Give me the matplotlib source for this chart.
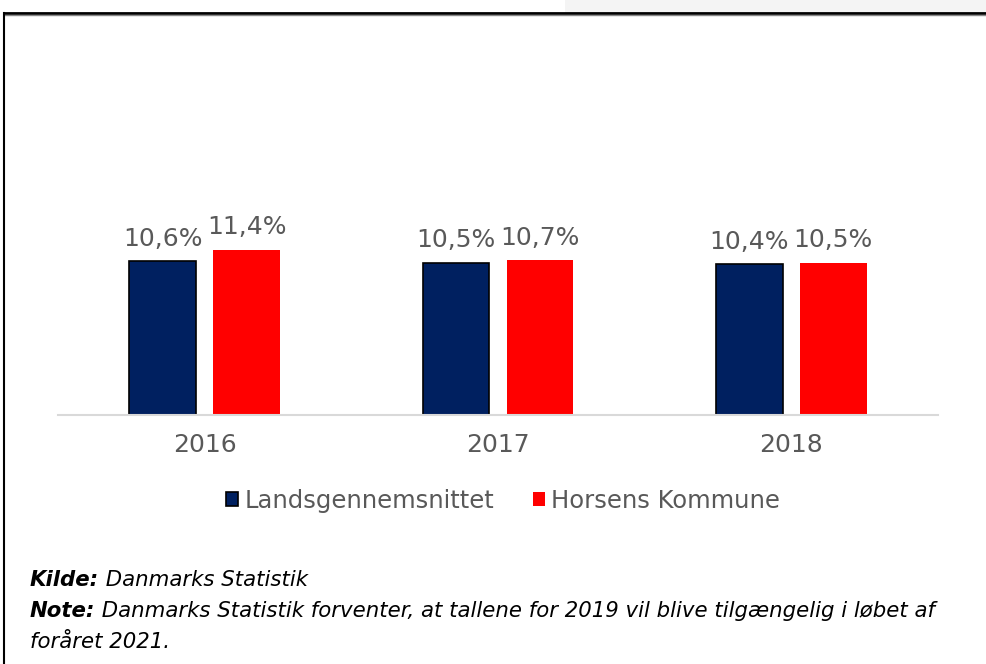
import numpy as np
import matplotlib
matplotlib.use("Agg")
import matplotlib.pyplot as plt
from matplotlib.patches import Rectangle, Patch
from matplotlib.lines import Line2D

# data
years = ["2016", "2017", "2018"]
lands = [10.6, 10.5, 10.4]
horsens = [11.4, 10.7, 10.5]
series_names = ["Landsgennemsnittet", "Horsens Kommune"]

navy = "#002060"
red = "#FF0000"
grey_txt = "#595959"

fig = plt.figure(figsize=(9.87, 6.64), dpi=100)

# light grey strip in the top-right corner + frame lines
fig.patches.append(Rectangle((565 / 987, 1 - 13 / 664), 1, 13 / 664, transform=fig.transFigure,
                             facecolor="#f4f4f4", edgecolor="none", zorder=0))
fig.lines.append(Line2D([4 / 987, 1], [1 - 13 / 664] * 2, transform=fig.transFigure, color="black", lw=2))
fig.lines.append(Line2D([4 / 987, 1], [1 - 15 / 664] * 2, transform=fig.transFigure, color="#888888", lw=1))
fig.lines.append(Line2D([4 / 987] * 2, [0, 1 - 13 / 664], transform=fig.transFigure, color="black", lw=1.5))

ax = fig.add_axes([58 / 987, 1 - 415 / 664, 880 / 987, 375 / 664])
x = np.arange(len(years))
w = 0.228
off = 0.143
b1 = ax.bar(x - off, lands, w, color=navy, edgecolor="black", linewidth=1.2)
b2 = ax.bar(x + off, horsens, w, color=red, edgecolor="none")

for bars, vals in [(b1, lands), (b2, horsens)]:
    for b, v in zip(bars, vals):
        ax.annotate(f"{v:.1f}%".replace(".", ","), (b.get_x() + b.get_width() / 2, v),
                    xytext=(0, 11), textcoords="offset points", ha="center", va="baseline",
                    fontsize=18, color=grey_txt)

ax.set_xlim(-0.5, 2.5)
ax.set_ylim(0, 375 / 14.5)
ax.set_xticks(x)
ax.set_xticklabels(years, fontsize=18, color=grey_txt)
ax.tick_params(axis="x", length=0, pad=13)
ax.set_yticks([])
for s in ["top", "right", "left"]:
    ax.spines[s].set_visible(False)
ax.spines["bottom"].set_color("#d9d9d9")
ax.spines["bottom"].set_linewidth(1.5)

handles = [Patch(facecolor=navy, edgecolor="black", linewidth=1.2, label=series_names[0]),
           Patch(facecolor=red, edgecolor="none", label=series_names[1])]
leg = fig.legend(handles=handles, loc="center", bbox_to_anchor=(503 / 987, 1 - 501 / 664),
                 ncol=2, frameon=False, fontsize=17.5, handlelength=0.5, handleheight=0.5,
                 handletextpad=0.25, columnspacing=1.6)
for t in leg.get_texts():
    t.set_color(grey_txt)

# footnotes
fs = 15.3
t1 = fig.text(30 / 987, 1 - 586 / 664, "Kilde:", fontsize=fs, fontweight="bold", fontstyle="italic")
ax.annotate(" Danmarks Statistik", xy=(1, 0), xycoords=t1, va="bottom", ha="left",
            fontsize=fs, fontstyle="italic", annotation_clip=False)
t2 = fig.text(30 / 987, 1 - 617 / 664, "Note:", fontsize=fs, fontweight="bold", fontstyle="italic")
ax.annotate(" Danmarks Statistik forventer, at tallene for 2019 vil blive tilgængelig i løbet af",
            xy=(1, 0), xycoords=t2, va="bottom", ha="left", fontsize=fs, fontstyle="italic",
            annotation_clip=False)
fig.text(30 / 987, 1 - 648 / 664, "foråret 2021.", fontsize=fs, fontstyle="italic")

fig.savefig("out.png", dpi=100)
